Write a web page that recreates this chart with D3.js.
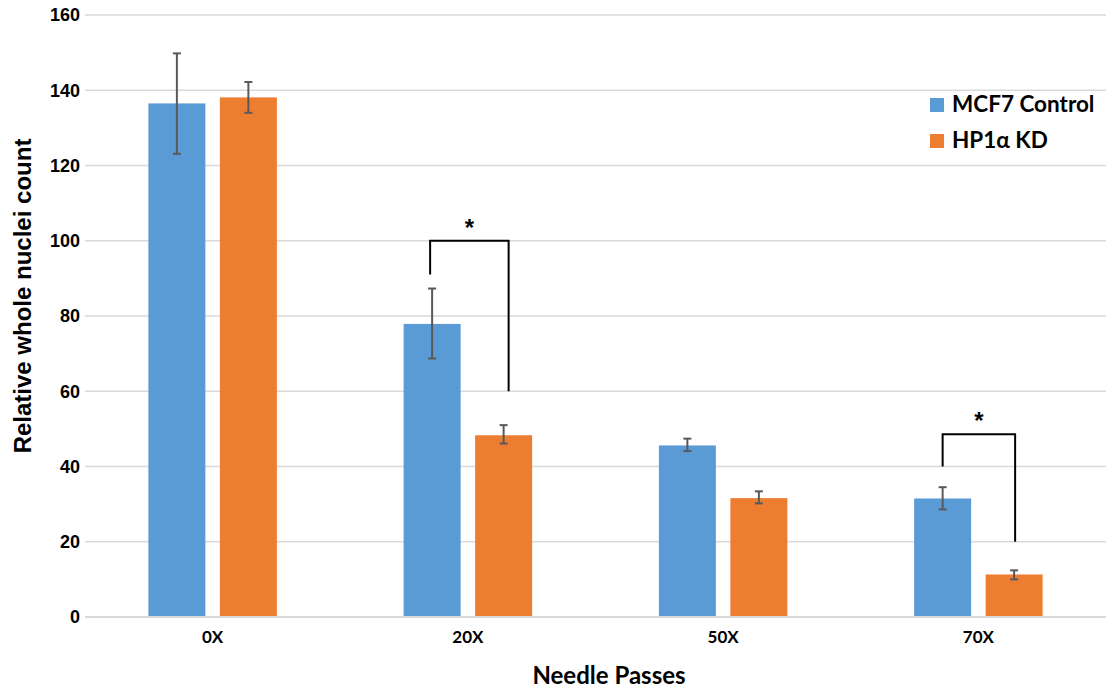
<!DOCTYPE html>
<html><head><meta charset="utf-8">
<script src="https://cdn.jsdelivr.net/npm/d3@7/dist/d3.min.js"></script>
<style>body{margin:0;background:#fff}</style>
</head><body>
<svg id="c" width="1106" height="688"></svg>
<script>
const categories = ["0X", "20X", "50X", "70X"];
const seriesNames = ["MCF7 Control", "HP1α KD"];
const controlValues = [136.5, 77.9, 45.6, 31.5];
const controlErrHigh = [149.8, 87.3, 47.4, 34.5];
const controlErrLow = [123.1, 68.7, 44.1, 28.6];
const kdValues = [138.1, 48.3, 31.6, 11.3];
const kdErrHigh = [142.2, 51.0, 33.4, 12.4];
const kdErrLow = [134.0, 46.1, 30.2, 10.0];
const yTicks = [0, 20, 40, 60, 80, 100, 120, 140, 160];
// significance brackets: category, top value, left leg end, right leg end
const sigCategories = ["20X", "70X"];
const sigTop = [100, 48.6];
const sigLeftEnd = [91, 40];
const sigRightEnd = [60, 20];
const colors = ["#5B9BD5", "#ED7D31"];

(function(){
const svg = d3.select("#c");
const mLeft = 85, mRight = 1106, mTop = 15, mBottom = 617;
const x = d3.scaleBand().domain(categories).range([mLeft, mRight]);
const y = d3.scaleLinear().domain([0, 160]).range([mBottom, mTop]);
const barW = 57, gap = 14.5;
const off = [-(gap/2 + barW), gap/2];

// gridlines
svg.append("g").selectAll("line").data(yTicks.filter(d => d > 0)).join("line")
  .attr("x1", mLeft).attr("x2", mRight)
  .attr("y1", d => y(d)).attr("y2", d => y(d))
  .attr("stroke", "#D9D9D9").attr("stroke-width", 1.5);

// y axis labels
const yAxis = d3.axisLeft(y).tickValues(yTicks).tickSize(0).tickPadding(5);
const ga = svg.append("g").attr("transform", `translate(${mLeft},0)`).call(yAxis);
ga.select(".domain").remove();
ga.selectAll("text").attr("font-family", "Liberation Sans, Arial").attr("font-weight", "bold")
  .attr("font-size", 18).attr("fill", "#000");

// bars
const series = [
  {vals: controlValues, hi: controlErrHigh, lo: controlErrLow},
  {vals: kdValues, hi: kdErrHigh, lo: kdErrLow}
];
series.forEach((s, si) => {
  const g = svg.append("g");
  g.selectAll("rect").data(categories).join("rect")
    .attr("x", (c) => x(c) + x.bandwidth()/2 + off[si])
    .attr("width", barW)
    .attr("y", (c, i) => y(s.vals[i]))
    .attr("height", (c, i) => y(0) - y(s.vals[i]))
    .attr("fill", colors[si]);
});

// x axis line
svg.append("line").attr("x1", mLeft).attr("x2", mRight).attr("y1", y(0)).attr("y2", y(0))
  .attr("stroke", "#D9D9D9").attr("stroke-width", 2);

// error bars
series.forEach((s, si) => {
  const g = svg.append("g").attr("stroke", "#595959").attr("stroke-width", 2);
  categories.forEach((c, i) => {
    const cx = x(c) + x.bandwidth()/2 + off[si] + barW/2;
    g.append("line").attr("x1", cx).attr("x2", cx).attr("y1", y(s.hi[i])).attr("y2", y(s.lo[i]));
    g.append("line").attr("x1", cx-4).attr("x2", cx+4).attr("y1", y(s.hi[i])).attr("y2", y(s.hi[i]));
    g.append("line").attr("x1", cx-4).attr("x2", cx+4).attr("y1", y(s.lo[i])).attr("y2", y(s.lo[i]));
  });
});

// x labels
const xAxis = d3.axisBottom(x).tickSize(0);
const gx = svg.append("g").attr("transform", `translate(0,${mBottom})`).call(xAxis);
gx.select(".domain").remove();
gx.selectAll("text").attr("y", 26).attr("dy", 0)
  .attr("font-family", "Lato, Open Sans, sans-serif").attr("font-weight", "bold")
  .attr("font-size", 17).attr("fill", "#000");

// significance brackets
const bracketAdj = [[-2, 5], [0, 1]];
sigCategories.forEach((c, i) => {
  const cx = x(c) + x.bandwidth()/2;
  const xl = cx + off[0] + barW/2 + bracketAdj[i][0];
  const xr = cx + off[1] + barW/2 + bracketAdj[i][1];
  svg.append("path")
    .attr("d", `M${xl},${y(sigLeftEnd[i])}V${y(sigTop[i])}H${xr}V${y(sigRightEnd[i])}`)
    .attr("fill", "none").attr("stroke", "#000").attr("stroke-width", 2);
  svg.append("text").attr("x", (xl + xr)/2).attr("y", y(sigTop[i]) - 5)
    .attr("text-anchor", "middle").attr("font-family", "Liberation Sans, Arial")
    .attr("font-weight", "bold").attr("font-size", 24).text("*");
});

// axis titles
svg.append("text").attr("x", 609).attr("y", 684).attr("text-anchor", "middle")
  .attr("font-family", "Lato, Open Sans, sans-serif").attr("font-weight", "bold")
  .attr("font-size", 24).text("Needle Passes");
svg.append("text").attr("transform", "translate(31,296) rotate(-90)").attr("text-anchor", "middle")
  .attr("font-family", "Liberation Sans, Arial").attr("font-weight", "bold")
  .attr("font-size", 24).text("Relative whole nuclei count");

// legend
const lg = svg.append("g");
seriesNames.forEach((n, i) => {
  lg.append("rect").attr("x", 930).attr("y", 98 + i*36).attr("width", 14).attr("height", 14).attr("fill", colors[i]);
  lg.append("text").attr("x", 952).attr("y", 112 + i*36)
    .attr("font-family", "Lato, Open Sans, sans-serif").attr("font-weight", "bold")
    .attr("font-size", 22.5).text(n);
});
})();
</script>
</body></html>
